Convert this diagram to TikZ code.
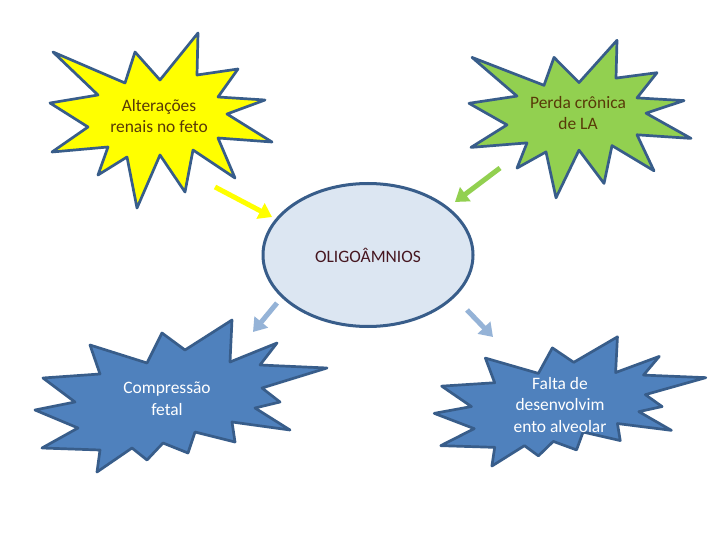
\documentclass[tikz,border=0pt]{standalone}
\usepackage{fontspec}
\setmainfont{Carlito}
\usepackage{tikz}
\usetikzlibrary{shapes.geometric,arrows.meta}
\definecolor{edgecolor}{RGB}{56,93,138}
\definecolor{yellowfill}{RGB}{255,255,0}
\definecolor{greenfill}{RGB}{146,208,80}
\definecolor{bluefill}{RGB}{79,129,189}
\definecolor{ellipsefill}{RGB}{220,230,242}
\definecolor{arrowblue}{RGB}{149,179,215}
\definecolor{darktext}{RGB}{88,58,8}
\definecolor{oligotext}{RGB}{70,22,32}

\begin{document}
\begin{tikzpicture}[
        x=1bp, y=-1bp,
        burstdraw/.style={draw=edgecolor, line width=2.7bp, line join=round},
        burstlabel/.style={align=center, font=\fontsize{17.5}{21.7}\selectfont, inner sep=0pt},
        fatarrow/.style={line width=5bp, -{Triangle[length=13bp, width=17bp]}},
        burst/.pic={
            \draw[pic actions] (-106,-64) -- (-34,-33) -- (-24,-64) -- (1,-36) -- (39,-83) -- (38,-41)
                -- (79,-47) -- (59,-19) -- (106,-16) -- (68,-2) -- (113,26) -- (59,22) -- (76,62)
                -- (34,34) -- (26,76) -- (1,39) -- (-22,92) -- (-32,41) -- (-61,59) -- (-51,31)
                -- (-107,36) -- (-71,11) -- (-109,-13) -- (-61,-21) -- cycle;
        },
        blob/.pic={
            \draw[pic actions] (-77,-54) -- (-20,-36) -- (-5,-66) -- (18,-49) -- (65,-79) -- (63,-37)
                -- (110,-56) -- (93,-34) -- (160,-31) -- (95,-11) -- (113,3) -- (88,9) -- (123,31)
                -- (65,23) -- (68,43) -- (28,33) -- (21,54) -- (-4,44) -- (-20,61) -- (-35,49)
                -- (-70,73) -- (-67,51) -- (-125,49) -- (-89,29) -- (-132,11) -- (-92,3)
                -- (-124,-21) -- (-67,-25) -- cycle;
        }
    ]
        \fill[white] (0,0) rectangle (720,540);

        % the four causes / effects
        \pic[burstdraw, fill=yellowfill] at (159,116) {burst};
        \node[burstlabel, text=darktext] (alteracoes) at (159,116) {Alterações\\renais no feto};

        \pic[burstdraw, fill=greenfill, yscale=0.9] at (578,115) {burst};
        \node[burstlabel, text=darktext] (perda) at (578,113) {Perda crônica\\de LA};

        \pic[burstdraw, fill=bluefill] at (167,399) {blob};
        \node[burstlabel, text=white] (compressao) at (167,399) {Compressão\\fetal};

        \pic[burstdraw, fill=bluefill, xscale=0.93, yscale=0.85] at (557,404) {blob};
        \node[burstlabel, text=white] (falta) at (560,405) {Falta de\\desenvolvim\\ento alveolar};

        % centre
        \node[ellipse, draw=edgecolor, line width=3bp, fill=ellipsefill, minimum width=210bp,
              minimum height=143bp, inner sep=0pt, text=oligotext,
              font=\fontsize{17.5}{20}\selectfont] (oligo) at (368,255) {OLIGOÂMNIOS};

        % block arrows
        \coordinate (alt-from) at (215,187);
        \coordinate (alt-to) at (272,217);
        \coordinate (per-from) at (500,168);
        \coordinate (per-to) at (455,202);
        \coordinate (com-from) at (277,303);
        \coordinate (com-to) at (253,332);
        \coordinate (fal-from) at (467,310);
        \coordinate (fal-to) at (493,337);

        \draw[fatarrow, yellowfill] (alt-from) -- (alt-to);
        \draw[fatarrow, greenfill] (per-from) -- (per-to);
        \draw[fatarrow, arrowblue] (com-from) -- (com-to);
        \draw[fatarrow, arrowblue] (fal-from) -- (fal-to);
    \end{tikzpicture}
\end{document}
